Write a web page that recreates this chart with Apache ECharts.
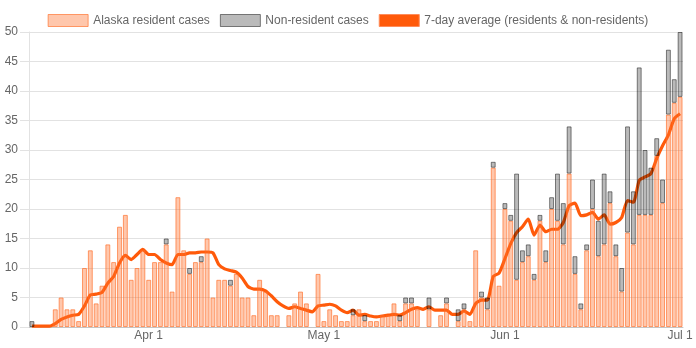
<!DOCTYPE html>
<html>
<head>
<meta charset="utf-8">
<script src="https://cdn.jsdelivr.net/npm/echarts@6/dist/echarts.min.js"></script>
<style>
  html, body { margin: 0; padding: 0; background: #fff; }
  #chart { width: 696px; height: 348px; }
</style>
</head>
<body>
<div id="chart"></div>
<script>
// Daily COVID-19 cases reported in Alaska, Mar 12 – Jul 1
const days = [
  'Mar 12','Mar 13','Mar 14','Mar 15','Mar 16','Mar 17','Mar 18','Mar 19','Mar 20','Mar 21',
  'Mar 22','Mar 23','Mar 24','Mar 25','Mar 26','Mar 27','Mar 28','Mar 29','Mar 30','Mar 31',
  'Apr 1','Apr 2','Apr 3','Apr 4','Apr 5','Apr 6','Apr 7','Apr 8','Apr 9','Apr 10',
  'Apr 11','Apr 12','Apr 13','Apr 14','Apr 15','Apr 16','Apr 17','Apr 18','Apr 19','Apr 20',
  'Apr 21','Apr 22','Apr 23','Apr 24','Apr 25','Apr 26','Apr 27','Apr 28','Apr 29','Apr 30',
  'May 1','May 2','May 3','May 4','May 5','May 6','May 7','May 8','May 9','May 10',
  'May 11','May 12','May 13','May 14','May 15','May 16','May 17','May 18','May 19','May 20',
  'May 21','May 22','May 23','May 24','May 25','May 26','May 27','May 28','May 29','May 30',
  'May 31','Jun 1','Jun 2','Jun 3','Jun 4','Jun 5','Jun 6','Jun 7','Jun 8','Jun 9',
  'Jun 10','Jun 11','Jun 12','Jun 13','Jun 14','Jun 15','Jun 16','Jun 17','Jun 18','Jun 19',
  'Jun 20','Jun 21','Jun 22','Jun 23','Jun 24','Jun 25','Jun 26','Jun 27','Jun 28','Jun 29',
  'Jun 30','Jul 1'
];

const residentCases = [
  0, 0, 0, 0, 3, 5, 3, 3, 1, 10,
  13, 4, 7, 14, 11, 17, 19, 8, 10, 13,
  8, 11, 11, 14, 6, 22, 13, 9, 11, 11,
  15, 5, 8, 8, 7, 9, 5, 5, 2, 8,
  6, 2, 2, 0, 2, 4, 6, 4, 0, 9,
  1, 3, 2, 1, 1, 2, 3, 1, 1, 1,
  2, 2, 4, 1, 4, 4, 3, 0, 3, 0,
  2, 4, 0, 1, 3, 1, 13, 5, 3, 27,
  7, 20, 18, 8, 11, 12, 8, 18, 11, 20,
  18, 14, 26, 9, 3, 13, 20, 12, 14, 21,
  12, 6, 16, 14, 19, 19, 19, 29, 21, 36,
  38, 39
];

const nonResidentCases = [
  1, 0, 0, 0, 0, 0, 0, 0, 0, 0,
  0, 0, 0, 0, 0, 0, 0, 0, 0, 0,
  0, 0, 0, 1, 0, 0, 0, 1, 0, 1,
  0, 0, 0, 0, 1, 0, 0, 0, 0, 0,
  0, 0, 0, 0, 0, 0, 0, 0, 0, 0,
  0, 0, 0, 0, 0, 1, 0, 1, 0, 0,
  0, 0, 0, 1, 1, 1, 0, 0, 2, 0,
  0, 1, 0, 2, 1, 0, 0, 1, 2, 1,
  0, 1, 1, 18, 2, 2, 1, 1, 2, 2,
  8, 7, 8, 3, 1, 1, 5, 6, 12, 2,
  2, 4, 18, 9, 25, 11, 8, 3, 4, 11,
  4, 11
];

// 7-day average of all cases (residents & non-residents)
const sevenDayAverage = [
  0.14, 0.14, 0.14, 0.14, 0.57, 1.29, 1.71, 2.00, 2.14, 3.57,
  5.43, 5.57, 5.86, 7.43, 8.57, 10.86, 12.14, 11.43, 12.29, 13.14,
  12.29, 12.29, 11.43, 10.86, 10.57, 12.29, 12.29, 12.57, 12.57, 12.71,
  12.71, 12.57, 10.57, 9.86, 9.57, 9.29, 8.29, 6.86, 6.43, 6.43,
  6.14, 5.29, 4.29, 3.57, 3.14, 3.43, 3.14, 2.86, 2.57, 3.57,
  3.71, 3.86, 3.57, 2.86, 2.43, 2.86, 2.00, 2.14, 1.86, 1.71,
  1.86, 2.00, 2.14, 2.00, 2.43, 3.00, 3.29, 3.00, 3.43, 2.86,
  2.86, 2.86, 2.14, 2.14, 2.71, 2.14, 4.00, 4.57, 4.57, 8.57,
  9.14, 11.57, 14.14, 16.00, 17.00, 18.29, 15.57, 17.29, 16.14, 16.57,
  16.57, 17.71, 20.57, 21.00, 18.86, 19.00, 19.43, 18.29, 19.00, 17.43,
  17.71, 18.57, 21.43, 21.14, 24.86, 25.43, 26.00, 28.57, 30.71, 32.57,
  35.29, 36.14
];

const xTickLabels = ['Apr 1', 'May 1', 'Jun 1', 'Jul 1'];
const yTickValues = [0, 5, 10, 15, 20, 25, 30, 35, 40, 45, 50];

const FONT = '"Liberation Sans", Arial, Helvetica, sans-serif';
const TEXT = '#666';
const GRID = '#e2e2e2';

const residentStyle = { color: 'rgba(255,110,40,0.39)', borderColor: 'rgba(255,110,40,0.66)', borderWidth: 1 };
const nonResidentStyle = { color: 'rgba(0,0,0,0.27)', borderColor: 'rgba(0,0,0,0.48)', borderWidth: 1 };
const averageColor = '#ff5a0a';

// zero-height resident bars would leave a border stroke on the baseline
const residentData = residentCases.map(v => v === 0 ? { value: 0, itemStyle: { borderWidth: 0 } } : v);
const nonResidentData = nonResidentCases.map(v => v === 0 ? null : v);

const showTick = (idx, val) => xTickLabels.indexOf(val) !== -1;

const chart = echarts.init(document.getElementById('chart'), null, { renderer: 'canvas' });
chart.setOption({
  animation: false,
  textStyle: { fontFamily: FONT },
  legend: {
    top: 9,
    left: 'center',
    icon: 'rect',
    itemWidth: 40,
    itemHeight: 12,
    itemGap: 10,
    textStyle: { color: TEXT, fontSize: 12, fontFamily: FONT },
    data: [
      { name: 'Alaska resident cases', itemStyle: residentStyle },
      { name: 'Non-resident cases', itemStyle: nonResidentStyle },
      { name: '7-day average (residents & non-residents)',
        itemStyle: { color: averageColor, borderColor: 'rgba(255,140,90,1)', borderWidth: 1 } }
    ]
  },
  grid: { left: 29, right: 13, top: 32, bottom: 21, containLabel: false },
  xAxis: {
    type: 'category',
    data: days,
    boundaryGap: true,
    axisLine: { show: true, lineStyle: { color: '#c4c4c4', width: 1 } },
    axisTick: { show: false },
    axisLabel: {
      interval: showTick,
      color: TEXT,
      fontSize: 12,
      fontFamily: FONT,
      margin: 3
    },
    splitLine: { show: false }
  },
  yAxis: {
    type: 'value',
    min: yTickValues[0],
    max: yTickValues[yTickValues.length - 1],
    interval: yTickValues[1] - yTickValues[0],
    axisLine: { show: true, lineStyle: { color: GRID } },
    axisTick: { show: true, length: 9, lineStyle: { color: GRID } },
    axisLabel: { color: TEXT, fontSize: 12, fontFamily: FONT, margin: 11 },
    splitLine: { show: true, lineStyle: { color: GRID, width: 1 } }
  },
  series: [
    {
      name: 'Alaska resident cases',
      type: 'bar',
      stack: 'cases',
      data: residentData,
      barCategoryGap: '16%',
      itemStyle: residentStyle,
      z: 3
    },
    {
      name: 'Non-resident cases',
      type: 'bar',
      stack: 'cases',
      data: nonResidentData,
      barCategoryGap: '16%',
      itemStyle: nonResidentStyle,
      z: 3
    },
    {
      name: '7-day average (residents & non-residents)',
      type: 'line',
      data: sevenDayAverage,
      smooth: 0.2,
      showSymbol: false,
      symbol: 'none',
      lineStyle: { color: averageColor, width: 3.2 },
      itemStyle: { color: averageColor },
      z: 2
    }
  ]
});
</script>
</body>
</html>
